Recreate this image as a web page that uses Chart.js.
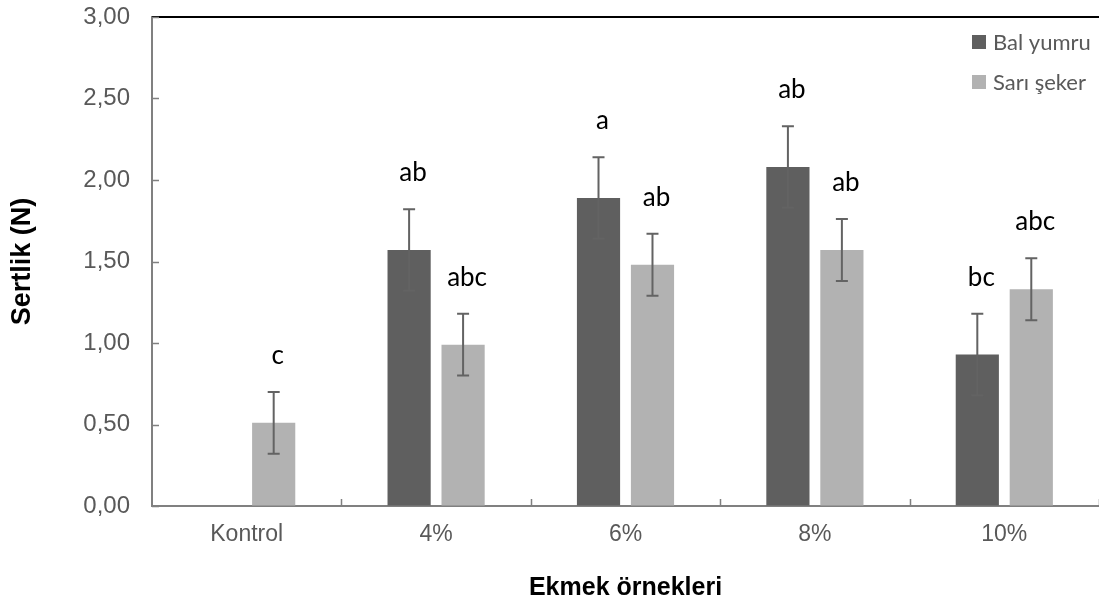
<!DOCTYPE html>
<html>
<head>
<meta charset="utf-8">
<script src="https://cdn.jsdelivr.net/npm/chart.js@4.4.0/dist/chart.umd.min.js"></script>
<style>
  html, body { margin: 0; padding: 0; background: #fff; }
  #wrap { width: 1099px; height: 610px; }
</style>
</head>
<body>
<div id="wrap"><canvas id="chart"></canvas></div>
<script>
// Data
const categories = ['Kontrol', '4%', '6%', '8%', '10%'];
const balYumru = [null, 1.57, 1.89, 2.08, 0.93];
const balYumruErr = [null, 0.25, 0.25, 0.25, 0.25];
const balYumruLetters = [null, 'ab', 'a', 'ab', 'bc'];
const sariSeker = [0.51, 0.99, 1.48, 1.57, 1.33];
const sariSekerErr = [0.19, 0.19, 0.19, 0.19, 0.19];
const sariSekerLetters = ['c', 'abc', 'ab', 'ab', 'abc'];
const yTicks = [0, 0.5, 1, 1.5, 2, 2.5, 3];

const errors = [balYumruErr, sariSekerErr];
const letters = [balYumruLetters, sariSekerLetters];
const axisGray = '#808080';

// error bars + letter labels above them
const errorBarPlugin = {
    id: 'errorBars',
    afterDatasetsDraw(chart) {
        const ctx = chart.ctx;
        const y = chart.scales.y;
        chart.data.datasets.forEach((ds, di) => {
            const meta = chart.getDatasetMeta(di);
            meta.data.forEach((bar, i) => {
                const v = ds.data[i];
                if (v === null) return;
                const e = errors[di][i];
                const top = y.getPixelForValue(v + e);
                const bot = y.getPixelForValue(v - e);
                ctx.save();
                ctx.strokeStyle = '#636363';
                ctx.lineWidth = 2;
                ctx.beginPath();
                ctx.moveTo(bar.x, top); ctx.lineTo(bar.x, bot);
                ctx.moveTo(bar.x - 6, top); ctx.lineTo(bar.x + 6, top);
                ctx.moveTo(bar.x - 6, bot); ctx.lineTo(bar.x + 6, bot);
                ctx.stroke();
                ctx.fillStyle = '#000';
                ctx.font = '26px Lato, "Open Sans", sans-serif';
                ctx.textAlign = 'center';
                ctx.textBaseline = 'alphabetic';
                ctx.fillText(letters[di][i], bar.x + 4, top - 28);
                ctx.restore();
            });
        });
    }
};

// top border, inward tick marks and the legend inside the plot
const framePlugin = {
    id: 'frame',
    afterDraw(chart) {
        const ctx = chart.ctx;
        const a = chart.chartArea;
        const xs = chart.scales.x, ys = chart.scales.y;
        ctx.save();
        ctx.strokeStyle = '#000';
        ctx.lineWidth = 2;
        ctx.beginPath();
        ctx.moveTo(a.left, a.top); ctx.lineTo(a.right, a.top);
        ctx.stroke();

        ctx.strokeStyle = axisGray;
        ctx.lineWidth = 1.5;
        ctx.beginPath();
        yTicks.forEach(t => {
            const py = Math.round(ys.getPixelForValue(t)) + 0.5;
            ctx.moveTo(a.left, py); ctx.lineTo(a.left + 7, py);
        });
        const half = (xs.getPixelForValue(1) - xs.getPixelForValue(0)) / 2;
        for (let i = 1; i <= categories.length; i++) {
            const px = Math.round(xs.getPixelForValue(i) - half) + 0.5;
            ctx.moveTo(px, a.bottom); ctx.lineTo(px, a.bottom - 7);
        }
        ctx.stroke();

        ctx.font = '22px Lato, "Open Sans", sans-serif';
        ctx.textBaseline = 'middle';
        ctx.textAlign = 'left';
        chart.data.datasets.forEach((ds, di) => {
            const ly = a.top + 25 + di * 40;
            const lx = a.right - 127;
            ctx.fillStyle = ds.backgroundColor;
            ctx.fillRect(lx, ly - 7, 14, 14);
            ctx.fillStyle = '#595959';
            ctx.fillText(ds.label, lx + 21, ly + 1);
        });
        ctx.restore();
    }
};

new Chart(document.getElementById('chart'), {
    type: 'bar',
    data: {
        labels: categories,
        datasets: [
            { label: 'Bal yumru', data: balYumru, backgroundColor: '#5f5f5f' },
            { label: 'Sarı şeker', data: sariSeker, backgroundColor: '#b2b2b2' }
        ]
    },
    options: {
        responsive: true,
        maintainAspectRatio: false,
        animation: false,
        layout: { padding: 0 },
        datasets: {
            bar: { categoryPercentage: 0.57, barPercentage: 0.8 }
        },
        plugins: {
            legend: { display: false },
            tooltip: { enabled: false }
        },
        scales: {
            x: {
                afterFit: s => { s.height = 104; s.paddingLeft = 0; s.paddingRight = 0; },
                grid: { display: true, drawOnChartArea: false, drawTicks: false },
                border: { display: true, color: axisGray, width: 2 },
                ticks: {
                    color: '#595959',
                    padding: 15,
                    font: { family: '"Liberation Sans", Arial, sans-serif', size: 23 }
                },
                title: {
                    display: true,
                    text: 'Ekmek örnekleri',
                    color: '#000',
                    padding: { top: 0, bottom: 7 },
                    font: { family: '"Liberation Sans", Arial, sans-serif', size: 25, weight: 'bold' }
                }
            },
            y: {
                min: 0,
                max: 3,
                afterFit: s => { s.width = 152; s.paddingTop = 17; s.paddingBottom = 0; },
                afterBuildTicks: s => { s.ticks = yTicks.map(v => ({ value: v })); },
                grid: { display: true, drawOnChartArea: false, drawTicks: false },
                border: { display: true, color: axisGray, width: 2 },
                ticks: {
                    color: '#595959',
                    padding: 22,
                    font: { family: '"Liberation Sans", Arial, sans-serif', size: 24 },
                    callback: v => v.toFixed(2).replace('.', ',')
                },
                title: {
                    display: true,
                    text: 'Sertlik (N)',
                    color: '#000',
                    padding: { top: 6, bottom: 0 },
                    font: { family: '"Liberation Sans", Arial, sans-serif', size: 27, weight: 'bold' }
                }
            }
        }
    },
    plugins: [errorBarPlugin, framePlugin]
});
</script>
</body>
</html>
